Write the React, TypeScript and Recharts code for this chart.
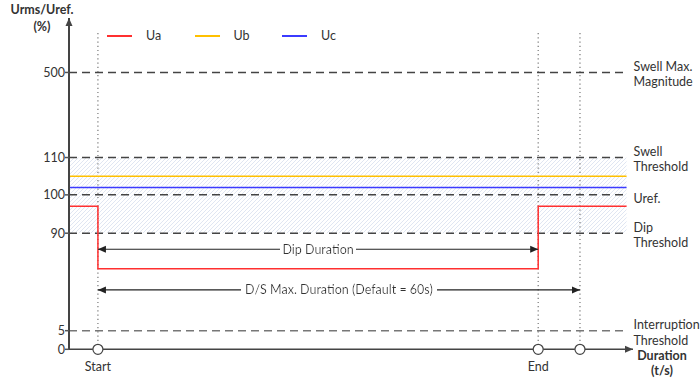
import React from "react";
import {
  LineChart,
  Line,
  XAxis,
  YAxis,
  ReferenceLine,
  ReferenceArea,
  ReferenceDot,
  Legend,
} from "recharts";

const FONT = "Lato, 'Open Sans', sans-serif";

// time axis (s)
const tLeft = -3.6;
const tStart = 0;
const tEnd = 54.8;
const tMax = 60;
const tRight = 65.8;
const tAxisEnd = 66.6;

// Urms/Uref (%) - broken axis, each band has its own scale
const yBreaks = [0, 5, 90, 100, 110, 500, 600];
const yStops = [0, 18.6, 116, 154.3, 191.6, 276.6, 331];
const yTicks = [0, 5, 90, 100, 110, 500];

const thresholdValues = [500, 110, 100, 90, 5];
const thresholdLabels = [
  ["Swell Max.", "Magnitude"],
  ["Swell", "Threshold"],
  ["Uref."],
  ["Dip", "Threshold"],
  ["Interruption", "Threshold"],
];

const seriesNames = ["Ua", "Ub", "Uc"];
const seriesColors = ["#ff3030", "#ffc000", "#3b3bff"];

const uaTimes = [tLeft, tStart, tStart, tEnd, tEnd, tRight];
const uaValues = [97, 97, 59, 59, 97, 97];
const ubTimes = [tLeft, tRight];
const ubValues = [105, 105];
const ucTimes = [tLeft, tRight];
const ucValues = [102, 102];

const dipArrowLevel = 76;
const dsArrowLevel = 40.5;
const guideTop = 578;

const toY = (v: number) => {
  for (let i = 1; i < yBreaks.length; i++) {
    if (v <= yBreaks[i]) {
      const f = (v - yBreaks[i - 1]) / (yBreaks[i] - yBreaks[i - 1]);
      return yStops[i - 1] + f * (yStops[i] - yStops[i - 1]);
    }
  }
  return yStops[yStops.length - 1];
};

const toData = (ts: number[], vs: number[]) => ts.map((t, i) => ({ t, v: toY(vs[i]) }));
const uaData = toData(uaTimes, uaValues);
const ubData = toData(ubTimes, ubValues);
const ucData = toData(ucTimes, ucValues);

const yTickPos = yTicks.map(toY);
const tickLabel = (v: number) => {
  const i = yTickPos.findIndex((p) => Math.abs(p - v) < 0.01);
  return i >= 0 ? String(yTicks[i]) : "";
};

const head = (x: number, y: number, a: number, color: string, L = 8, W = 3.5) => {
  const bx = x - L * Math.cos(a);
  const by = y - L * Math.sin(a);
  const px = W * Math.sin(a);
  const py = -W * Math.cos(a);
  return (
    <polygon
      points={`${x},${y} ${bx + px},${by + py} ${bx - px},${by - py}`}
      fill={color}
    />
  );
};

const arrowShape = (color: string, width: number, both: boolean, label?: string) => (p: any) => {
  const { x1, y1, x2, y2 } = p;
  const a = Math.atan2(y2 - y1, x2 - x1);
  return (
    <g>
      <line x1={x1} y1={y1} x2={x2} y2={y2} stroke={color} strokeWidth={width} />
      {head(x2, y2, a, color)}
      {both && head(x1, y1, a + Math.PI, color)}
      {label && (
        <text
          x={(x1 + x2) / 2}
          y={y1 + 4.5}
          textAnchor="middle"
          fontFamily={FONT}
          fontSize={12.5}
          fill="#333"
          filter="url(#textbg)"
        >
          {label}
        </text>
      )}
    </g>
  );
};

const thresholdShape = (lines: string[], color: string) => (p: any) => {
  const { x1, y1, x2, y2 } = p;
  const tx = Math.max(x1, x2) + 7;
  const first = lines.length > 1 ? y1 - 6 : y1 + 4;
  return (
    <g>
      <line x1={x1} y1={y1} x2={x2} y2={y2} stroke={color} strokeWidth={1.5} strokeDasharray="8 5" />
      {lines.map((s, i) => (
        <text
          key={s}
          x={tx}
          y={first + i * 15.5}
          dy="0.35em"
          fontFamily={FONT}
          fontSize={12.5}
          fill="#333"
        >
          {s}
        </text>
      ))}
    </g>
  );
};

const renderLegend = () => (
  <div style={{ display: "flex", fontFamily: FONT, fontSize: 12.5, color: "#333" }}>
    {seriesNames.map((name, i) => (
      <div key={name} style={{ display: "flex", alignItems: "center", width: 87.5 }}>
        <div
          style={{
            width: 25,
            height: 2,
            background: seriesColors[i],
            marginRight: 14,
          }}
        />
        <span>{name}</span>
      </div>
    ))}
  </div>
);

export default function App() {
  return (
    <div style={{ position: "absolute", left: 0, top: 0 }}>
      <LineChart
        width={700}
        height={380}
        margin={{ top: 18, right: 67, bottom: 30.7, left: 39 }}
      >
        <defs>
          <pattern id="hatch" patternUnits="userSpaceOnUse" width="4" height="4">
            <path d="M-1,1 l2,-2 M0,4 l4,-4 M3,5 l2,-2" stroke="#d8e0ef" strokeWidth={0.8} />
          </pattern>
          <filter id="textbg" x="-0.02" y="0" width="1.04" height="1">
            <feFlood floodColor="#fff" />
            <feComposite in="SourceGraphic" operator="over" />
          </filter>
        </defs>
        <XAxis type="number" dataKey="t" domain={[tLeft, tAxisEnd]} hide />
        <YAxis
          type="number"
          domain={[0, yStops[yStops.length - 1]]}
          ticks={yTickPos}
          interval={0}
          tickFormatter={tickLabel}
          width={30}
          axisLine={false}
          tickLine={{ stroke: "#555", strokeWidth: 1.5 }}
          tickSize={4}
          tickMargin={0}
          tick={{ fontFamily: FONT, fontSize: 12.5, fill: "#333" }}
        />
        <ReferenceArea
          x1={tLeft}
          x2={tRight}
          y1={toY(90)}
          y2={toY(110)}
          fill="url(#hatch)"
          fillOpacity={1}
          stroke="none"
          ifOverflow="visible"
        />
        {thresholdValues.map((v, i) => (
          <ReferenceLine
            key={v}
            segment={[
              { x: tLeft, y: toY(v) },
              { x: tRight, y: toY(v) },
            ]}
            ifOverflow="visible"
            shape={thresholdShape(thresholdLabels[i], v === 5 ? "#777" : "#444")}
          />
        ))}
        {[tStart, tEnd, tMax].map((t) => (
          <ReferenceLine
            key={t}
            segment={[
              { x: t, y: 0 },
              { x: t, y: toY(guideTop) },
            ]}
            ifOverflow="visible"
            stroke="#777"
            strokeWidth={1.2}
            strokeDasharray="1.2 3"
          />
        ))}
        <Line data={ubData} dataKey="v" name="Ub" type="linear" stroke={seriesColors[1]} strokeWidth={1.5} dot={false} isAnimationActive={false} />
        <Line data={ucData} dataKey="v" name="Uc" type="linear" stroke={seriesColors[2]} strokeWidth={1.5} dot={false} isAnimationActive={false} />
        <Line data={uaData} dataKey="v" name="Ua" type="linear" stroke={seriesColors[0]} strokeWidth={1.5} dot={false} isAnimationActive={false} />
        <ReferenceLine
          segment={[
            { x: tStart, y: toY(dipArrowLevel) },
            { x: tEnd, y: toY(dipArrowLevel) },
          ]}
          ifOverflow="visible"
          shape={arrowShape("#222", 1.2, true, "Dip Duration")}
        />
        <ReferenceLine
          segment={[
            { x: tStart, y: toY(dsArrowLevel) },
            { x: tMax, y: toY(dsArrowLevel) },
          ]}
          ifOverflow="visible"
          shape={arrowShape("#222", 1.2, true, "D/S Max. Duration (Default = 60s)")}
        />
        <ReferenceLine
          segment={[
            { x: tLeft, y: 0 },
            { x: tLeft, y: yStops[yStops.length - 1] },
          ]}
          ifOverflow="visible"
          shape={arrowShape("#444", 2, false)}
        />
        <ReferenceLine
          segment={[
            { x: tLeft, y: 0 },
            { x: tAxisEnd, y: 0 },
          ]}
          ifOverflow="visible"
          shape={arrowShape("#444", 1.5, false)}
        />
        <ReferenceDot x={tStart} y={0} r={5} fill="#fff" stroke="#444" strokeWidth={1.2} ifOverflow="visible"
          label={{ value: "Start", position: "bottom", offset: 8, fontFamily: FONT, fontSize: 12.5, fill: "#333" }} />
        <ReferenceDot x={tEnd} y={0} r={5} fill="#fff" stroke="#444" strokeWidth={1.2} ifOverflow="visible"
          label={{ value: "End", position: "bottom", offset: 8, fontFamily: FONT, fontSize: 12.5, fill: "#333" }} />
        <ReferenceDot x={tMax} y={0} r={5} fill="#fff" stroke="#444" strokeWidth={1.2} ifOverflow="visible" />
        <text x={42} y={10} dy="0.35em" textAnchor="middle" fontFamily={FONT} fontSize={12.5} fontWeight="bold" fill="#333">
          Urms/Uref.
        </text>
        <text x={42} y={27} dy="0.35em" textAnchor="middle" fontFamily={FONT} fontSize={12.5} fontWeight="bold" fill="#333">
          (%)
        </text>
        <text x={662} y={356} dy="0.35em" textAnchor="middle" fontFamily={FONT} fontSize={12.5} fontWeight="bold" fill="#333">
          Duration
        </text>
        <text x={662} y={371} dy="0.35em" textAnchor="middle" fontFamily={FONT} fontSize={12.5} fontWeight="bold" fill="#333">
          (t/s)
        </text>
        <Legend
          layout="vertical"
          verticalAlign="middle"
          align="center"
          wrapperStyle={{ top: 28, left: 107, width: 300 }}
          content={renderLegend}
        />
      </LineChart>
    </div>
  );
}
